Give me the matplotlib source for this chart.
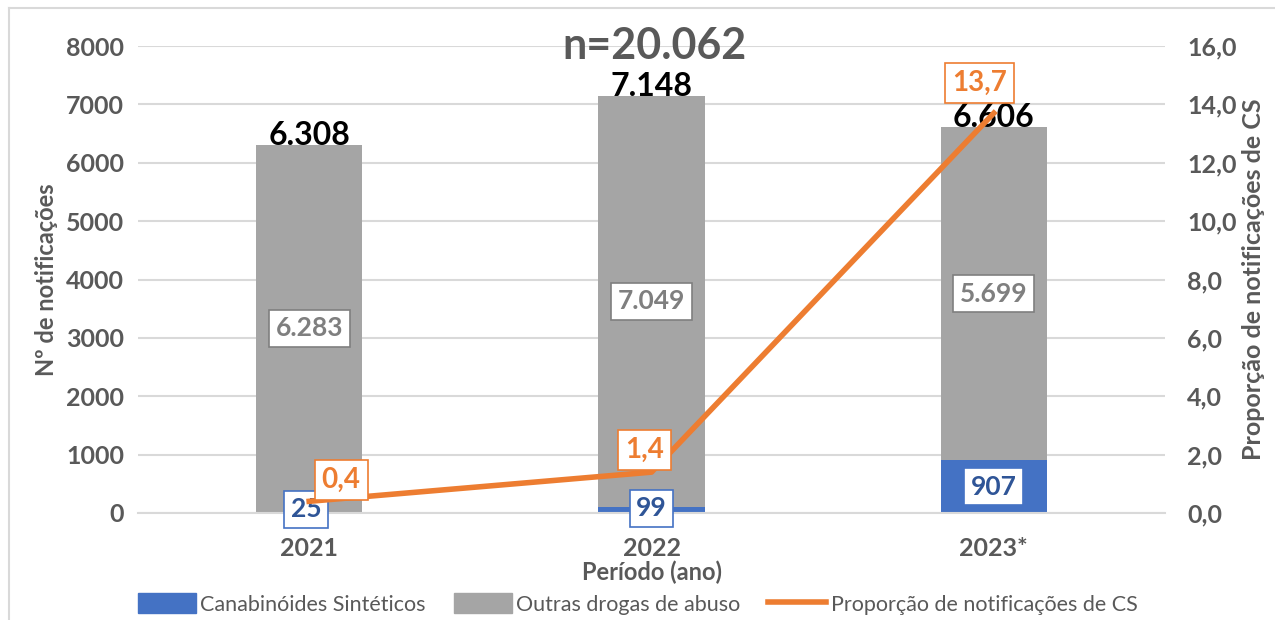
import matplotlib.pyplot as plt
from matplotlib.patches import Patch
from matplotlib.lines import Line2D
import numpy as np

plt.rcParams['font.family'] = ['Lato', 'DejaVu Sans']

# dados
anos = ['2021', '2022', '2023*']
cs = [25, 99, 907]
outras = [6283, 7049, 5699]
totais = ['6.308', '7.148', '6.606']
rot_cs = ['25', '99', '907']
rot_outras = ['6.283', '7.049', '5.699']
proporcao = [0.4, 1.4, 13.7]
rot_prop = ['0,4', '1,4', '13,7']

azul = '#4472C4'
cinza = '#A5A5A5'
laranja = '#ED7D31'
texto = '#595959'
grade = '#D9D9D9'

fig = plt.figure(figsize=(12.75, 6.2), dpi=100)
ax = fig.add_axes([138 / 1275, 1 - 513 / 620, 1027 / 1275, 467 / 620])
ax2 = ax.twinx()

x = np.arange(len(anos))
w = 0.31
ax.bar(x, cs, w, color=azul, zorder=2)
ax.bar(x, outras, w, bottom=cs, color=cinza, zorder=2)

ax.set_xlim(-0.5, 2.5)
ax.set_ylim(0, 8000)
ax.set_yticks(range(0, 8001, 1000))
ax.grid(axis='y', color=grade, lw=1.5, zorder=0)
ax.set_axisbelow(True)
for s in ['top', 'right', 'left']:
    ax.spines[s].set_visible(False)
    ax2.spines[s].set_visible(False)
ax.spines['bottom'].set_color(grade)
ax.spines['bottom'].set_linewidth(1.5)
ax2.spines['bottom'].set_visible(False)
ax.tick_params(length=0, labelsize=18, labelcolor=texto, pad=10)
ax.tick_params(axis='x', pad=17)
ax.set_xticks(x)
ax.set_xticklabels(anos, fontweight='bold', fontsize=18, color=texto)
for t in ax.get_yticklabels():
    t.set_fontweight('bold')
ax.set_xlabel('Período (ano)', fontsize=17, fontweight='bold', color=texto, labelpad=1)
ax.set_ylabel('Nº de notificações', fontsize=17, fontweight='bold', color=texto, labelpad=6)

ax2.set_ylim(0, 16)
ax2.set_yticks(np.arange(0, 16.1, 2))
ax2.set_yticklabels([f'{v:.1f}'.replace('.', ',') for v in np.arange(0, 16.1, 2)],
                    fontweight='bold')
ax2.tick_params(length=0, labelsize=18, labelcolor=texto, pad=16)
ax2.set_ylabel('Proporção de notificações de CS', fontsize=18, fontweight='bold',
               color=texto, labelpad=4)

ax2.plot(x, proporcao, color=laranja, lw=4, zorder=3)

# rótulos
for i in range(3):
    ax.text(x[i], cs[i] + outras[i], totais[i], ha='center', va='baseline',
            fontsize=23, fontweight='bold', color='black', zorder=5)
    ax.text(x[i], cs[i] + outras[i] / 2, rot_outras[i], ha='center', va='center',
            fontsize=19, fontweight='bold', color='#7F7F7F', zorder=5,
            bbox=dict(boxstyle='square,pad=0.25', fc='white', ec='#7F7F7F', lw=1.2))

offs_cs = [(-3, 3), (0, 2), (0, 0)]
for i in range(3):
    ax.annotate(rot_cs[i], (x[i], cs[i] / 2), xytext=offs_cs[i], textcoords='offset pixels',
                ha='center', va='center', fontsize=19, fontweight='bold', color='#2F5597',
                zorder=6, annotation_clip=False,
                bbox=dict(boxstyle='square,pad=0.25', fc='white', ec=azul, lw=1.2))

offs_p = [(32, 21), (-7, 22), (-14, 30)]
for i in range(3):
    ax2.annotate(rot_prop[i], (x[i], proporcao[i]), xytext=offs_p[i], textcoords='offset pixels',
                 ha='center', va='center', fontsize=20, fontweight='bold', color=laranja,
                 zorder=7,
                 bbox=dict(boxstyle='square,pad=0.25', fc='white', ec=laranja, lw=1.2))

fig.text(655 / 1275, 1 - 46 / 620, 'n=20.062', ha='center', va='center',
         fontsize=31, fontweight='bold', color=texto)

handles = [Patch(color=azul), Patch(color=cinza), Line2D([], [], color=laranja, lw=4)]
labels = ['Canabinóides Sintéticos', 'Outras drogas de abuso', 'Proporção de notificações de CS']
fig.legend(handles, labels, loc='center', bbox_to_anchor=(0.5, 1 - 604 / 620), ncol=3,
           frameon=False, fontsize=15.5, labelcolor=texto, handlelength=2.7, handleheight=1.0,
           handletextpad=0.2, columnspacing=1.3)

# moldura
fig.add_artist(Line2D([9 / 1275, 9 / 1275], [0, 1 - 8 / 620], color=grade, lw=1.5))
fig.add_artist(Line2D([9 / 1275, 1], [1 - 8 / 620, 1 - 8 / 620], color=grade, lw=1.5))

fig.savefig('out.png', dpi=100)
